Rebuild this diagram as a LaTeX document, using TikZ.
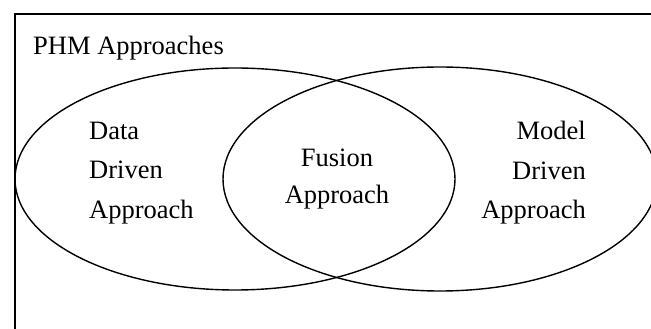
\documentclass[tikz,border=0pt]{standalone}
\usepackage{fontspec}
\setmainfont{Liberation Serif}
\usetikzlibrary{shapes.geometric}
\begin{document}
\begin{tikzpicture}[x=1pt,y=1pt,
  set/.style={draw, ellipse, line width=1.4pt, inner sep=0pt},
  lbl/.style={font=\fontsize{26.5}{39.5}\selectfont, inner sep=0pt}]
\useasboundingbox (0,0) rectangle (651,329);
\clip (0,0) rectangle (651,329);
% outer frame
\draw[line width=2pt] (15,-20) -- (15,315) -- (680,315);
\node[lbl, anchor=west] (title) at (33,281) {PHM Approaches};
% the two overlapping sets
\node[set, minimum width=440pt, minimum height=222pt] (data) at (235,150) {};
\node[set, minimum width=434pt, minimum height=224pt] (model) at (440,150) {};
% set labels
\node[lbl, align=left, anchor=west] (datatxt) at (89,156) {Data\\Driven\\Approach};
\node[lbl, align=right, anchor=east] (modeltxt) at (586,156) {Model\\Driven\\Approach};
\node[lbl, align=center, font=\fontsize{26.5}{37}\selectfont] (fusion) at (337,150) {Fusion\\Approach};
\end{tikzpicture}
\end{document}
